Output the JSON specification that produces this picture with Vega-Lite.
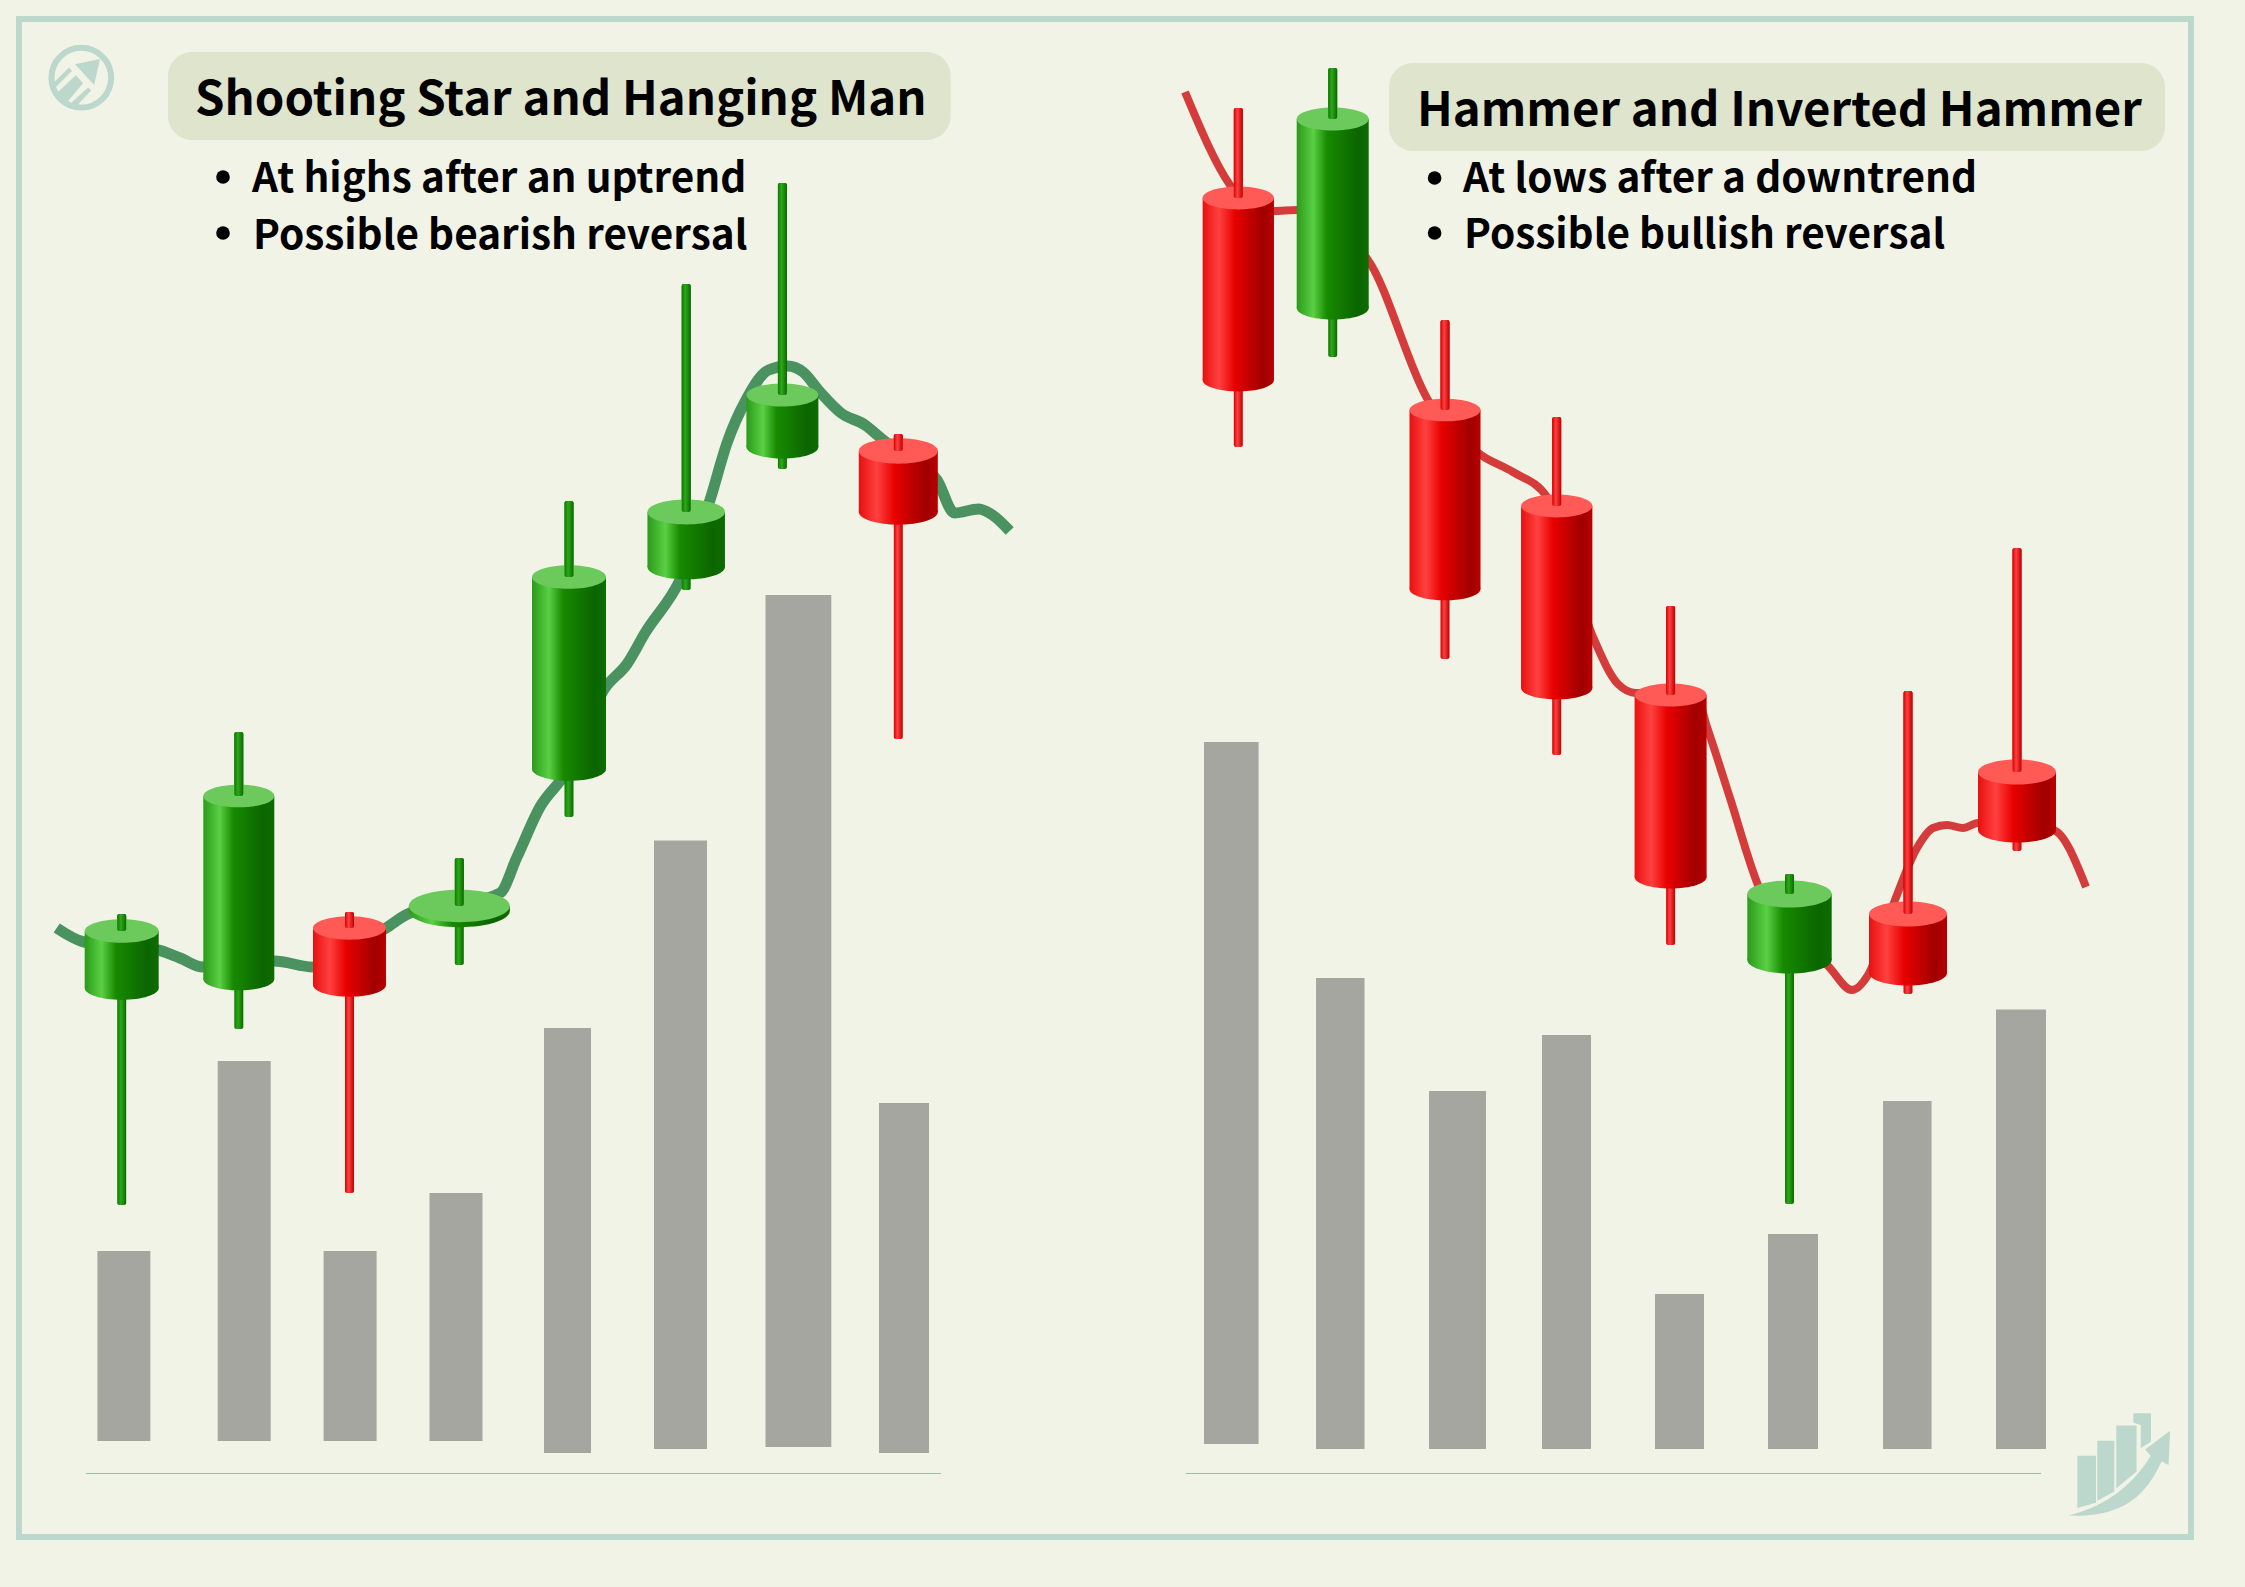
{"$schema":"https://vega.github.io/schema/vega-lite/v6.json","width":2245,"height":1587,"autosize":{"type":"none"},"padding":0,"background":"#f2f3e7","config":{"view":{"stroke":null},"axis":{"disable":true},"legend":{"disable":true},"scale":{"continuousPadding":0}},"resolve":{"scale":{"size":"independent"}},
"datasets":{
"candles":[
{"panel":"left","t":12.17,"w":7.4,"top":65.6,"bottom":59.9,"high":67.3,"low":38.2,"dir":"up"},
{"panel":"left","t":23.88,"w":7.1,"top":79.1,"bottom":60.8,"high":85.5,"low":55.8,"dir":"up"},
{"panel":"left","t":34.95,"w":7.3,"top":65.9,"bottom":60.2,"high":67.5,"low":39.4,"dir":"down"},
{"panel":"left","t":45.93,"w":10.1,"top":68.1,"bottom":67.6,"high":72.9,"low":62.2,"dir":"up"},
{"panel":"left","t":56.9,"w":7.4,"top":101,"bottom":81.8,"high":108.6,"low":77,"dir":"up"},
{"panel":"left","t":68.62,"w":7.75,"top":107.5,"bottom":102,"high":130.3,"low":99.7,"dir":"up"},
{"panel":"left","t":78.24,"w":7.2,"top":119.2,"bottom":114,"high":140.4,"low":111.8,"dir":"up"},
{"panel":"left","t":89.83,"w":7.9,"top":113.6,"bottom":107.5,"high":115.3,"low":84.8,"dir":"down"},
{"panel":"right","t":123.83,"w":7.13,"top":138.9,"bottom":120.7,"high":147.9,"low":114,"dir":"down"},
{"panel":"right","t":133.27,"w":7.2,"top":146.8,"bottom":127.9,"high":151.9,"low":123,"dir":"up"},
{"panel":"right","t":144.5,"w":7.1,"top":117.7,"bottom":99.8,"high":126.7,"low":92.8,"dir":"down"},
{"panel":"right","t":155.67,"w":7.13,"top":108.1,"bottom":89.9,"high":117,"low":83.2,"dir":"down"},
{"panel":"right","t":167.06,"w":7.2,"top":89.2,"bottom":71,"high":98.1,"low":64.2,"dir":"down"},
{"panel":"right","t":178.95,"w":8.44,"top":69.3,"bottom":62.7,"high":71.3,"low":38.3,"dir":"up"},
{"panel":"right","t":190.8,"w":7.8,"top":67.3,"bottom":61.4,"high":89.6,"low":59.3,"dir":"down"},
{"panel":"right","t":201.7,"w":7.8,"top":81.5,"bottom":75.7,"high":103.9,"low":73.6,"dir":"down"}],
"volume":[
{"panel":"left","t":12.39,"w":5.29,"vol":33.6,"base":14.6},
{"panel":"left","t":24.42,"w":5.3,"vol":52.6,"base":14.6},
{"panel":"left","t":35.01,"w":5.3,"vol":33.6,"base":14.6},
{"panel":"left","t":45.6,"w":5.3,"vol":39.4,"base":14.6},
{"panel":"left","t":56.75,"w":4.7,"vol":55.9,"base":13.4},
{"panel":"left","t":68.05,"w":5.3,"vol":74.65,"base":13.8},
{"panel":"left","t":79.84,"w":6.58,"vol":99.2,"base":14},
{"panel":"left","t":90.4,"w":5,"vol":48.4,"base":13.4},
{"panel":"right","t":123.13,"w":5.46,"vol":84.5,"base":14.3},
{"panel":"right","t":134.03,"w":4.85,"vol":60.9,"base":13.8},
{"panel":"right","t":145.75,"w":5.7,"vol":49.6,"base":13.8},
{"panel":"right","t":156.65,"w":4.9,"vol":55.2,"base":13.8},
{"panel":"right","t":167.95,"w":4.9,"vol":29.3,"base":13.8},
{"panel":"right","t":179.3,"w":5,"vol":35.3,"base":13.8},
{"panel":"right","t":190.73,"w":4.85,"vol":48.6,"base":13.8},
{"panel":"right","t":202.1,"w":5,"vol":57.75,"base":13.8}],
"avgLeft":[{"t":5.67,"p":65.9},{"t":8.4,"p":64.5},{"t":15.8,"p":63.7},{"t":18,"p":62.9},{"t":20.3,"p":62},{"t":24,"p":62.3},{"t":27.4,"p":62.6},{"t":31.3,"p":62},{"t":35,"p":63.7},{"t":38.6,"p":65.9},{"t":41,"p":67.4},{"t":45.5,"p":68.2},{"t":50,"p":69.4},{"t":51.7,"p":73},{"t":54,"p":78},{"t":56.5,"p":81.3},{"t":60.5,"p":89.9},{"t":62.7,"p":92.3},{"t":64.5,"p":95.4},{"t":68.1,"p":100.9},{"t":71,"p":108.7},{"t":72.7,"p":114.4},{"t":74.6,"p":118.7},{"t":76.86,"p":121.7},{"t":78.76,"p":122.1},{"t":80.3,"p":121.5},{"t":82,"p":119.5},{"t":84.1,"p":117.4},{"t":86.5,"p":116.2},{"t":88.2,"p":114.8},{"t":91,"p":112.7},{"t":93.7,"p":110.7},{"t":95.46,"p":107.4},{"t":97.87,"p":107.8},{"t":99.25,"p":107.2},{"t":100.97,"p":105.6}],
"avgRight":[{"t":118.5,"p":149.5},{"t":123,"p":140.2},{"t":125,"p":137.9},{"t":127.3,"p":137.6},{"t":129.7,"p":137.7},{"t":136.8,"p":132.7},{"t":142.8,"p":118.7},{"t":148.1,"p":113.2},{"t":151.3,"p":111.5},{"t":154.7,"p":109},{"t":159.3,"p":95},{"t":161.8,"p":90.3},{"t":163.6,"p":89.4},{"t":169.5,"p":89.4},{"t":170.7,"p":86},{"t":173,"p":78.9},{"t":175.8,"p":70.2},{"t":180,"p":64.2},{"t":182.7,"p":62.2},{"t":185.2,"p":59.7},{"t":186.8,"p":61.2},{"t":189.5,"p":68.7},{"t":191.7,"p":73.9},{"t":193.3,"p":75.9},{"t":194.7,"p":76.2},{"t":196.3,"p":75.9},{"t":197.8,"p":76.4},{"t":205.3,"p":75.7},{"t":208.6,"p":70}],
"boxes":[{"a":16.8,"b":95.07,"c":144.7,"d":153.5},{"a":138.9,"b":216.5,"c":143.6,"d":152.4}],
"titles":[{"t":19.5,"p":147.2,"label":"Shooting Star and Hanging Man"},{"t":141.7,"p":146.1,"label":"Hammer and Inverted Hammer"}],
"notes":[{"t":25.2,"p":139.5,"bt":22.3,"bp":141,"label":"At highs after an uptrend"},{"t":25.3,"p":133.8,"bt":22.3,"bp":135.4,"label":"Possible bearish reversal"},{"t":146.3,"p":139.5,"bt":143.46,"bp":140.9,"label":"At lows after a downtrend"},{"t":146.4,"p":133.9,"bt":143.46,"bp":135.4,"label":"Possible bullish reversal"}],
"baselines":[{"a":8.6,"b":94.1,"p":11.35},{"a":118.55,"b":204.1,"p":11.35}]
},
"layer":[
{"data":{"values":[{"a":1.9,"b":219.1,"c":5,"d":156.8}]},"mark":{"type":"rect","fill":"transparent","stroke":"#bcd7cb","strokeWidth":6},"encoding":{"x":{"field":"a","type":"quantitative","scale":{"domain":[0,224.5],"nice":false,"zero":false}},"x2":{"field":"b"},"y":{"field":"c","type":"quantitative","scale":{"domain":[0,158.7],"nice":false,"zero":false}},"y2":{"field":"d"}}},
{"data":{"name":"boxes"},"mark":{"type":"rect","fill":"#dfe4cc","cornerRadius":24},"encoding":{"x":{"field":"a","type":"quantitative","scale":{"domain":[0,224.5],"nice":false,"zero":false}},"x2":{"field":"b"},"y":{"field":"c","type":"quantitative","scale":{"domain":[0,158.7],"nice":false,"zero":false}},"y2":{"field":"d"}}},
{"data":{"name":"baselines"},"mark":{"type":"rule","stroke":"#9fbfae","strokeWidth":1},"encoding":{"x":{"field":"a","type":"quantitative","scale":{"domain":[0,224.5],"nice":false,"zero":false}},"x2":{"field":"b"},"y":{"field":"p","type":"quantitative","scale":{"domain":[0,158.7],"nice":false,"zero":false}}}},
{"data":{"name":"volume"},"mark":{"type":"bar","color":"#a5a69f"},"encoding":{"x":{"field":"t","type":"quantitative","scale":{"domain":[0,224.5],"nice":false,"zero":false}},"y":{"field":"vol","type":"quantitative","scale":{"domain":[0,158.7],"nice":false,"zero":false}},"y2":{"field":"base"},"size":{"field":"w","type":"quantitative","scale":{"domain":[0,12],"range":[0,120]}}}},
{"data":{"name":"avgLeft"},"mark":{"type":"line","interpolate":"monotone","color":"#4a9260","strokeWidth":11},"encoding":{"x":{"field":"t","type":"quantitative","scale":{"domain":[0,224.5],"nice":false,"zero":false}},"y":{"field":"p","type":"quantitative","scale":{"domain":[0,158.7],"nice":false,"zero":false}}}},
{"data":{"name":"avgRight"},"mark":{"type":"line","interpolate":"monotone","color":"#d43c3c","strokeWidth":8},"encoding":{"x":{"field":"t","type":"quantitative","scale":{"domain":[0,224.5],"nice":false,"zero":false}},"y":{"field":"p","type":"quantitative","scale":{"domain":[0,158.7],"nice":false,"zero":false}}}},
{"data":{"name":"candles"},"transform":[{"filter":"datum.dir==='up'"}],"mark":{"type":"bar","size":9,"cornerRadius":2,"color":{"gradient":"linear","x1":0,"x2":1,"y1":0,"y2":0,"stops":[{"offset":0,"color":"#0f7a00"},{"offset":0.4,"color":"#2ca818"},{"offset":1,"color":"#0a6a00"}]}},"encoding":{"x":{"field":"t","type":"quantitative","scale":{"domain":[0,224.5],"nice":false,"zero":false}},"y":{"field":"high","type":"quantitative","scale":{"domain":[0,158.7],"nice":false,"zero":false}},"y2":{"field":"low"}}},
{"data":{"name":"candles"},"transform":[{"filter":"datum.dir==='down'"}],"mark":{"type":"bar","size":9,"cornerRadius":2,"color":{"gradient":"linear","x1":0,"x2":1,"y1":0,"y2":0,"stops":[{"offset":0,"color":"#d80000"},{"offset":0.4,"color":"#ff4040"},{"offset":1,"color":"#c00000"}]}},"encoding":{"x":{"field":"t","type":"quantitative","scale":{"domain":[0,224.5],"nice":false,"zero":false}},"y":{"field":"high","type":"quantitative","scale":{"domain":[0,158.7],"nice":false,"zero":false}},"y2":{"field":"low"}}},
{"data":{"name":"candles"},"transform":[{"filter":"datum.dir==='up'"}],"mark":{"type":"point","filled":true,"opacity":1,"strokeWidth":0,"shape":"M-1,0A1,0.32,0,1,1,1,0A1,0.32,0,1,1,-1,0Z","color":{"gradient":"linear","x1":0,"x2":1,"y1":0,"y2":0,"stops":[{"offset":0,"color":"#2a9a1a"},{"offset":0.23,"color":"#5ad044"},{"offset":0.42,"color":"#178a00"},{"offset":0.85,"color":"#0b6500"},{"offset":1,"color":"#0d6d00"}]}},"encoding":{"x":{"field":"t","type":"quantitative","scale":{"domain":[0,224.5],"nice":false,"zero":false}},"y":{"field":"bottom","type":"quantitative","scale":{"domain":[0,158.7],"nice":false,"zero":false}},"size":{"field":"w","type":"quantitative","scale":{"type":"pow","exponent":2,"domain":[0,12],"range":[0,14400]}}}},
{"data":{"name":"candles"},"transform":[{"filter":"datum.dir==='down'"}],"mark":{"type":"point","filled":true,"opacity":1,"strokeWidth":0,"shape":"M-1,0A1,0.32,0,1,1,1,0A1,0.32,0,1,1,-1,0Z","color":{"gradient":"linear","x1":0,"x2":1,"y1":0,"y2":0,"stops":[{"offset":0,"color":"#e81010"},{"offset":0.23,"color":"#ff4040"},{"offset":0.45,"color":"#e80000"},{"offset":0.85,"color":"#a00000"},{"offset":1,"color":"#b80000"}]}},"encoding":{"x":{"field":"t","type":"quantitative","scale":{"domain":[0,224.5],"nice":false,"zero":false}},"y":{"field":"bottom","type":"quantitative","scale":{"domain":[0,158.7],"nice":false,"zero":false}},"size":{"field":"w","type":"quantitative","scale":{"type":"pow","exponent":2,"domain":[0,12],"range":[0,14400]}}}},
{"data":{"name":"candles"},"transform":[{"filter":"datum.dir==='up'"}],"mark":{"type":"bar","color":{"gradient":"linear","x1":0,"x2":1,"y1":0,"y2":0,"stops":[{"offset":0,"color":"#2a9a1a"},{"offset":0.23,"color":"#5ad044"},{"offset":0.42,"color":"#178a00"},{"offset":0.85,"color":"#0b6500"},{"offset":1,"color":"#0d6d00"}]}},"encoding":{"x":{"field":"t","type":"quantitative","scale":{"domain":[0,224.5],"nice":false,"zero":false}},"y":{"field":"top","type":"quantitative","scale":{"domain":[0,158.7],"nice":false,"zero":false}},"y2":{"field":"bottom"},"size":{"field":"w","type":"quantitative","scale":{"domain":[0,12],"range":[0,120]}}}},
{"data":{"name":"candles"},"transform":[{"filter":"datum.dir==='down'"}],"mark":{"type":"bar","color":{"gradient":"linear","x1":0,"x2":1,"y1":0,"y2":0,"stops":[{"offset":0,"color":"#e81010"},{"offset":0.23,"color":"#ff4040"},{"offset":0.45,"color":"#e80000"},{"offset":0.85,"color":"#a00000"},{"offset":1,"color":"#b80000"}]}},"encoding":{"x":{"field":"t","type":"quantitative","scale":{"domain":[0,224.5],"nice":false,"zero":false}},"y":{"field":"top","type":"quantitative","scale":{"domain":[0,158.7],"nice":false,"zero":false}},"y2":{"field":"bottom"},"size":{"field":"w","type":"quantitative","scale":{"domain":[0,12],"range":[0,120]}}}},
{"data":{"name":"candles"},"transform":[{"filter":"datum.dir==='up'"}],"mark":{"type":"point","filled":true,"opacity":1,"strokeWidth":0,"color":"#6cc95c","shape":"M-1,0A1,0.32,0,1,1,1,0A1,0.32,0,1,1,-1,0Z"},"encoding":{"x":{"field":"t","type":"quantitative","scale":{"domain":[0,224.5],"nice":false,"zero":false}},"y":{"field":"top","type":"quantitative","scale":{"domain":[0,158.7],"nice":false,"zero":false}},"size":{"field":"w","type":"quantitative","scale":{"type":"pow","exponent":2,"domain":[0,12],"range":[0,14400]}}}},
{"data":{"name":"candles"},"transform":[{"filter":"datum.dir==='down'"}],"mark":{"type":"point","filled":true,"opacity":1,"strokeWidth":0,"color":"#ff5a56","shape":"M-1,0A1,0.32,0,1,1,1,0A1,0.32,0,1,1,-1,0Z"},"encoding":{"x":{"field":"t","type":"quantitative","scale":{"domain":[0,224.5],"nice":false,"zero":false}},"y":{"field":"top","type":"quantitative","scale":{"domain":[0,158.7],"nice":false,"zero":false}},"size":{"field":"w","type":"quantitative","scale":{"type":"pow","exponent":2,"domain":[0,12],"range":[0,14400]}}}},
{"data":{"name":"candles"},"transform":[{"filter":"datum.dir==='up'"}],"mark":{"type":"bar","size":9,"cornerRadius":2,"color":{"gradient":"linear","x1":0,"x2":1,"y1":0,"y2":0,"stops":[{"offset":0,"color":"#0f7a00"},{"offset":0.4,"color":"#2ca818"},{"offset":1,"color":"#0a6a00"}]}},"encoding":{"x":{"field":"t","type":"quantitative","scale":{"domain":[0,224.5],"nice":false,"zero":false}},"y":{"field":"high","type":"quantitative","scale":{"domain":[0,158.7],"nice":false,"zero":false}},"y2":{"field":"top"}}},
{"data":{"name":"candles"},"transform":[{"filter":"datum.dir==='down'"}],"mark":{"type":"bar","size":9,"cornerRadius":2,"color":{"gradient":"linear","x1":0,"x2":1,"y1":0,"y2":0,"stops":[{"offset":0,"color":"#d80000"},{"offset":0.4,"color":"#ff4040"},{"offset":1,"color":"#c00000"}]}},"encoding":{"x":{"field":"t","type":"quantitative","scale":{"domain":[0,224.5],"nice":false,"zero":false}},"y":{"field":"high","type":"quantitative","scale":{"domain":[0,158.7],"nice":false,"zero":false}},"y2":{"field":"top"}}},
{"data":{"name":"titles"},"mark":{"type":"text","font":"Noto Sans CJK SC","fontWeight":"bold","fontSize":47.3,"color":"#000000","align":"left","baseline":"alphabetic"},"encoding":{"x":{"field":"t","type":"quantitative","scale":{"domain":[0,224.5],"nice":false,"zero":false}},"y":{"field":"p","type":"quantitative","scale":{"domain":[0,158.7],"nice":false,"zero":false}},"text":{"field":"label"}}},
{"data":{"name":"notes"},"mark":{"type":"text","font":"Noto Sans CJK SC","fontWeight":"bold","fontSize":40.5,"color":"#000000","align":"left","baseline":"alphabetic"},"encoding":{"x":{"field":"t","type":"quantitative","scale":{"domain":[0,224.5],"nice":false,"zero":false}},"y":{"field":"p","type":"quantitative","scale":{"domain":[0,158.7],"nice":false,"zero":false}},"text":{"field":"label"}}},
{"data":{"name":"notes"},"mark":{"type":"point","shape":"circle","filled":true,"opacity":1,"color":"#000000","size":186,"strokeWidth":0},"encoding":{"x":{"field":"bt","type":"quantitative","scale":{"domain":[0,224.5],"nice":false,"zero":false}},"y":{"field":"bp","type":"quantitative","scale":{"domain":[0,158.7],"nice":false,"zero":false}}}},
{"data":{"values":[{"t":8.13,"p":150.93}]},"mark":{"type":"point","shape":"circle","filled":false,"opacity":1,"stroke":"#bcd7cb","strokeWidth":6,"size":3568},"encoding":{"x":{"field":"t","type":"quantitative","scale":{"domain":[0,224.5],"nice":false,"zero":false}},"y":{"field":"p","type":"quantitative","scale":{"domain":[0,158.7],"nice":false,"zero":false}}}},
{"data":{"values":[{"t":8.13,"p":150.93}]},"mark":{"type":"point","filled":true,"opacity":1,"strokeWidth":0,"color":"#bcd7cb","size":5377,"shape":"M-.34,-.27L-.25,-.19L-.76,.32L-.85,.23ZM-.15,-.07L.05,.15L-.45,.74L-.72,.47ZM.19,.27L.27,.35L-.2,.85L-.35,.75ZM.51,-.51L-.17,-.37L.35,.2Z"},"encoding":{"x":{"field":"t","type":"quantitative","scale":{"domain":[0,224.5],"nice":false,"zero":false}},"y":{"field":"p","type":"quantitative","scale":{"domain":[0,158.7],"nice":false,"zero":false}}}},
{"data":{"values":[{"t":212,"p":12.37}]},"mark":{"type":"point","filled":true,"opacity":1,"strokeWidth":0,"color":"#bcd7cb","size":11378,"shape":"M-.8,-.14L-.45,-.14L-.45,.74L-.8,.84ZM-.425,-.425L-.106,-.425L-.106,.53L-.425,.7ZM-.07,-.71L.31,-.71L.31,.156L-.07,.47ZM.25,-.94L.58,-.94L.58,-.41L.39,-.28L.39,-.72L.25,-.76ZM-.97,.98C-.4,.85,.2,.5,.575,-.14L.47,-.26L.94,-.61L.91,.03L.78,-.04C.55,.45,.2,1.03,-.97,.98Z"},"encoding":{"x":{"field":"t","type":"quantitative","scale":{"domain":[0,224.5],"nice":false,"zero":false}},"y":{"field":"p","type":"quantitative","scale":{"domain":[0,158.7],"nice":false,"zero":false}}}}
]}
